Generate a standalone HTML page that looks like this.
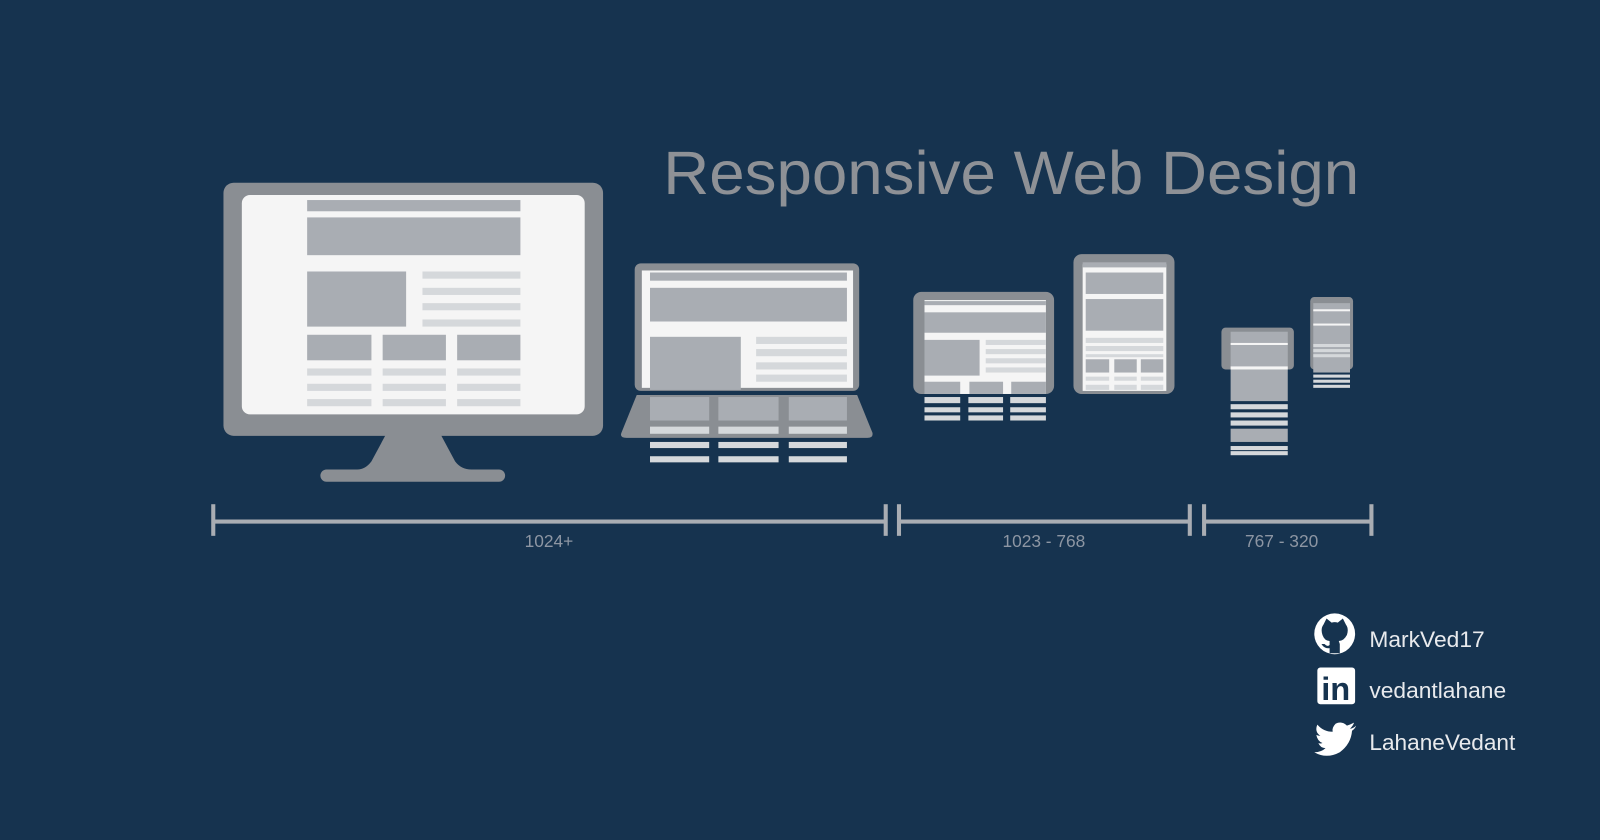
<!DOCTYPE html>
<html><head><meta charset="utf-8"><style>
html,body{margin:0;padding:0;background:#16334f;}
svg{display:block;}
</style></head><body>
<svg width="1600" height="840" viewBox="0 0 1568 823" preserveAspectRatio="none" xmlns="http://www.w3.org/2000/svg">
<rect width="1568" height="823" fill="#16334f"/>
<text x="650" y="190" font-family="Liberation Sans, sans-serif" font-size="60" fill="#8e9196" textLength="682" lengthAdjust="spacingAndGlyphs">Responsive Web Design</text>

<!-- Monitor -->
<g>
<rect x="219" y="179" width="372" height="248" rx="10" fill="#8a8e93"/>
<rect x="237" y="191" width="336" height="215" rx="8" fill="#f5f5f5"/>
<path d="M378 426 L432 426 L446 452 Q452 460 462 460 L350 460 Q358 460 364 452 Z" fill="#8a8e93"/>
<rect x="314" y="460" width="181" height="12" rx="6" fill="#8a8e93"/>
<g fill="#a9adb3">
<rect x="301" y="196" width="209" height="11"/>
<rect x="301" y="213" width="209" height="37"/>
<rect x="301" y="266" width="97" height="54"/>
<rect x="301" y="328" width="63" height="25"/>
<rect x="375" y="328" width="62" height="25"/>
<rect x="448" y="328" width="62" height="25"/>
</g>
<g fill="#d5d8db">
<rect x="414" y="266" width="96" height="7"/><rect x="414" y="282" width="96" height="7"/><rect x="414" y="297" width="96" height="7"/><rect x="414" y="313" width="96" height="7"/>
<rect x="301" y="361" width="63" height="7"/><rect x="375" y="361" width="62" height="7"/><rect x="448" y="361" width="62" height="7"/>
<rect x="301" y="376" width="63" height="7"/><rect x="375" y="376" width="62" height="7"/><rect x="448" y="376" width="62" height="7"/>
<rect x="301" y="391" width="63" height="7"/><rect x="375" y="391" width="62" height="7"/><rect x="448" y="391" width="62" height="7"/>
</g>
</g>

<!-- Laptop -->
<g>
<rect x="622" y="258" width="220" height="125" rx="6" fill="#8a8e93"/>
<rect x="629" y="265" width="207" height="115" fill="#f5f5f5"/>
<path d="M624 387 L840 387 L855 424 Q856 429 850 429 L614 429 Q607 429 609 424 Z" fill="#8a8e93"/>
<g fill="#a9adb3">
<rect x="637" y="267" width="193" height="8"/>
<rect x="637" y="282" width="193" height="33"/>
<rect x="637" y="330" width="89" height="52"/>
<rect x="637" y="389" width="58" height="23"/><rect x="704" y="389" width="59" height="23"/><rect x="773" y="389" width="57" height="23"/>
</g>
<g fill="#d5d8db">
<rect x="741" y="330" width="89" height="7"/><rect x="741" y="342" width="89" height="7"/><rect x="741" y="355" width="89" height="7"/><rect x="741" y="367" width="89" height="7"/>
<rect x="637" y="418" width="58" height="7"/><rect x="704" y="418" width="59" height="7"/><rect x="773" y="418" width="57" height="7"/>
<rect x="637" y="433" width="58" height="6"/><rect x="704" y="433" width="59" height="6"/><rect x="773" y="433" width="57" height="6"/>
<rect x="637" y="447" width="58" height="6"/><rect x="704" y="447" width="59" height="6"/><rect x="773" y="447" width="57" height="6"/>
</g>
</g>

<!-- Tablet landscape -->
<g>
<rect x="895" y="286" width="138" height="100" rx="8" fill="#8a8e93"/>
<rect x="906" y="294" width="119" height="92" fill="#f5f5f5"/>
<g fill="#a9adb3">
<rect x="906" y="295" width="119" height="4" fill="#a9adb3"/>
<rect x="906" y="306" width="119" height="20"/>
<rect x="906" y="333" width="54" height="35"/>
<rect x="906" y="374" width="35" height="12"/><rect x="950" y="374" width="33" height="12"/><rect x="991" y="374" width="34" height="12"/>
</g>
<g fill="#d5d8db">
<rect x="966" y="333" width="59" height="5"/><rect x="966" y="342" width="59" height="5"/><rect x="966" y="351" width="59" height="5"/><rect x="966" y="360" width="59" height="5"/>
<rect x="906" y="389" width="35" height="6"/><rect x="949" y="389" width="34" height="6"/><rect x="990" y="389" width="35" height="6"/>
<rect x="906" y="399" width="35" height="5"/><rect x="949" y="399" width="34" height="5"/><rect x="990" y="399" width="35" height="5"/>
<rect x="906" y="407" width="35" height="5"/><rect x="949" y="407" width="34" height="5"/><rect x="990" y="407" width="35" height="5"/>
</g>
</g>

<!-- Tablet portrait -->
<g>
<rect x="1052" y="249" width="99" height="137" rx="8" fill="#8a8e93"/>
<rect x="1061" y="259" width="82" height="124" fill="#f5f5f5"/>
<g fill="#a9adb3">
<rect x="1061" y="257" width="82" height="5"/>
<rect x="1064" y="267" width="76" height="21"/>
<rect x="1064" y="293" width="76" height="31"/>
<rect x="1064" y="352" width="23" height="13"/><rect x="1092" y="352" width="22" height="13"/><rect x="1118" y="352" width="22" height="13"/>
</g>
<g fill="#d5d8db">
<rect x="1064" y="331" width="76" height="5"/><rect x="1064" y="339" width="76" height="5"/><rect x="1064" y="347" width="76" height="3"/>
<rect x="1064" y="369" width="23" height="4"/><rect x="1092" y="369" width="22" height="4"/><rect x="1118" y="369" width="22" height="4"/>
<rect x="1064" y="377" width="23" height="5"/><rect x="1092" y="377" width="22" height="5"/><rect x="1118" y="377" width="22" height="5"/>
</g>
</g>

<!-- Phone landscape -->
<g>
<rect x="1197" y="321" width="71" height="41" rx="4" fill="#8a8e93"/>
<rect x="1206" y="325" width="56" height="68" fill="#a9adb3"/>
<rect x="1206" y="336" width="56" height="2" fill="#f5f5f5"/>
<rect x="1206" y="359" width="56" height="3" fill="#f5f5f5"/>
<g fill="#d5d8db">
<rect x="1206" y="396" width="56" height="5"/><rect x="1206" y="404" width="56" height="5"/><rect x="1206" y="412" width="56" height="5"/>
<rect x="1206" y="437" width="56" height="4"/><rect x="1206" y="442" width="56" height="4"/>
</g>
<rect x="1206" y="420" width="56" height="13" fill="#a9adb3"/>
</g>

<!-- Phone portrait -->
<g>
<rect x="1284" y="291" width="42" height="71" rx="4" fill="#8a8e93"/>
<rect x="1287" y="297" width="36" height="68" fill="#a9adb3"/>
<rect x="1287" y="303" width="36" height="2" fill="#f5f5f5"/>
<rect x="1287" y="317" width="36" height="2" fill="#f5f5f5"/>
<g fill="#d5d8db">
<rect x="1287" y="337" width="36" height="3"/><rect x="1287" y="342" width="36" height="3"/><rect x="1287" y="347" width="36" height="3"/>
<rect x="1287" y="367" width="36" height="3"/><rect x="1287" y="372" width="36" height="3"/><rect x="1287" y="377" width="36" height="3"/>
</g>
</g>

<!-- Axis -->
<g stroke="#a9adb3" stroke-width="4" fill="none">
<line x1="209" y1="511" x2="868" y2="511"/>
<line x1="881" y1="511" x2="1166" y2="511"/>
<line x1="1180" y1="511" x2="1344" y2="511"/>
<line x1="209" y1="494" x2="209" y2="525"/>
<line x1="868" y1="494" x2="868" y2="525"/>
<line x1="881" y1="494" x2="881" y2="525"/>
<line x1="1166" y1="494" x2="1166" y2="525"/>
<line x1="1180" y1="494" x2="1180" y2="525"/>
<line x1="1344" y1="494" x2="1344" y2="525"/>
</g>
<g font-family="Liberation Sans, sans-serif" font-size="17" fill="#8d96a3" text-anchor="middle">
<text x="538" y="536">1024+</text>
<text x="1023" y="536">1023 - 768</text>
<text x="1256" y="536">767 - 320</text>
</g>

<!-- Social -->
<g fill="#ffffff">
<circle cx="1308" cy="621" r="20"/>
<path d="M1297 612 L1300 606 L1305 610 Q1308 609 1311 610 L1316 606 L1319 612 Q1322 616 1320 622 Q1317 628 1312 628 L1313 631 L1313 640 L1303 640 L1303 635 Q1298 636 1295 631 L1298 631 Q1301 634 1303 632 L1303 628 Q1298 628 1296 622 Q1294 616 1297 612 Z" fill="#16334f"/>
<rect x="1291" y="654" width="37" height="36" rx="3"/>
<text x="1309" y="686" font-family="Liberation Sans, sans-serif" font-weight="bold" font-size="32" fill="#16334f" text-anchor="middle">in</text>
<path d="M1329 711 Q1326 714 1323 714 Q1326 711 1327 708 Q1323 710 1320 711 Q1315 706 1309 709 Q1305 713 1306 717 Q1297 717 1291 710 Q1288 717 1294 721 Q1292 721 1290 720 Q1291 726 1296 728 Q1294 729 1292 728 Q1294 733 1299 733 Q1295 737 1288 737 Q1300 744 1313 737 Q1324 729 1325 716 Q1328 714 1329 711 Z"/>
</g>
<g font-family="Liberation Sans, sans-serif" font-size="22" fill="#e8eaed">
<text x="1342" y="634" textLength="113" lengthAdjust="spacingAndGlyphs">MarkVed17</text>
<text x="1342" y="684" textLength="134" lengthAdjust="spacingAndGlyphs">vedantlahane</text>
<text x="1342" y="735" textLength="143" lengthAdjust="spacingAndGlyphs">LahaneVedant</text>
</g>
</svg>
</body></html>
